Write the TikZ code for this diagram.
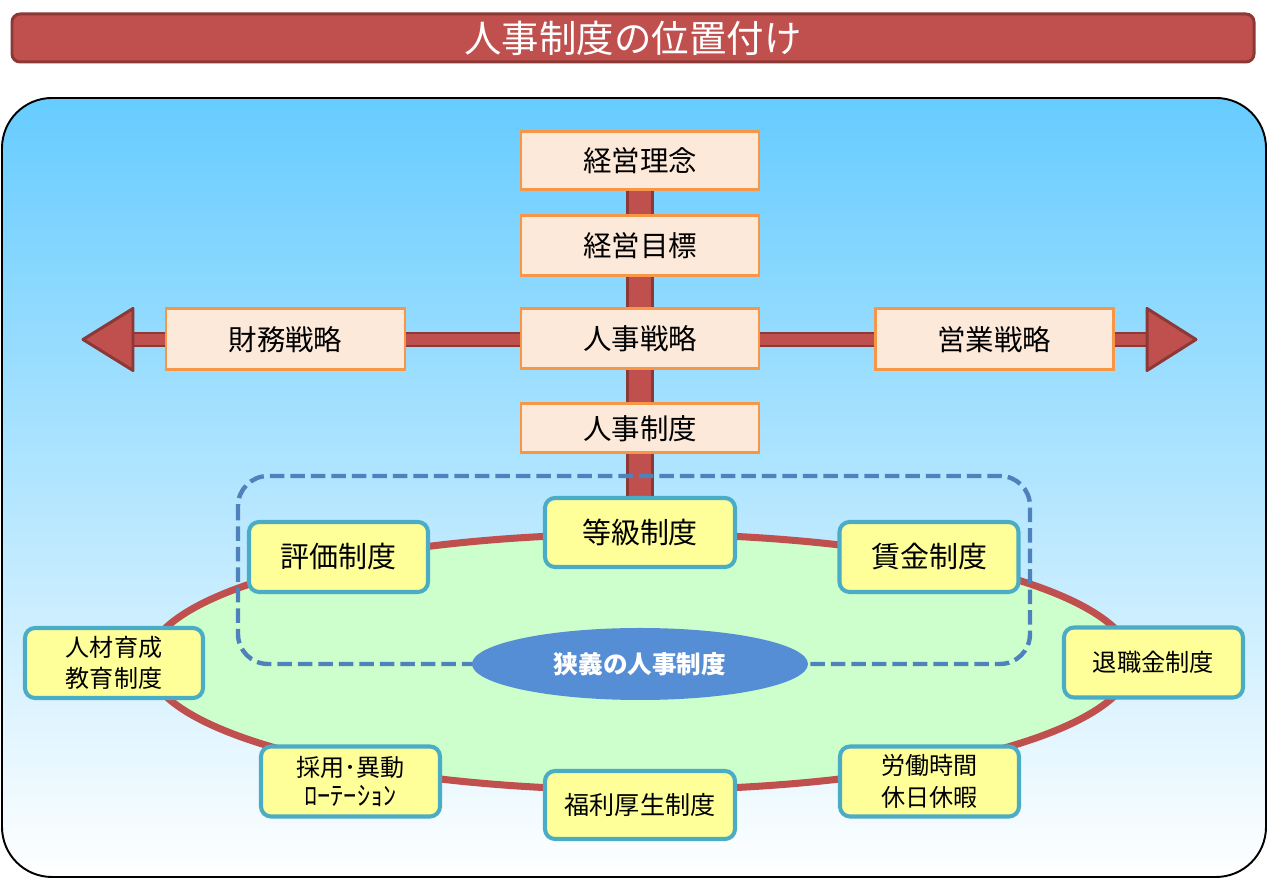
\documentclass[tikz,border=0pt]{standalone}
\usepackage{fontspec}
\setmainfont{Noto Sans CJK JP}
\usepackage{xcolor}
\definecolor{hrRed}{HTML}{C0504D}
\definecolor{hrRedEdge}{HTML}{8C3836}
\definecolor{hrOrange}{HTML}{F79646}
\definecolor{hrPeach}{HTML}{FDE9D9}
\definecolor{hrYellow}{HTML}{FFFF99}
\definecolor{hrTeal}{HTML}{4BACC6}
\definecolor{hrGreen}{HTML}{CCFFCC}
\definecolor{hrBlue}{HTML}{4F81BD}
\definecolor{hrCore}{HTML}{558ED5}
\definecolor{hrSky}{HTML}{66CCFF}
\usepackage{tikz}
\usetikzlibrary{calc,shapes.geometric}
\pgfdeclarelayer{back}
\pgfdeclarelayer{mid}
\pgfsetlayers{back,mid,main}

\begin{document}
\begin{tikzpicture}[
  planbox/.style={draw=hrOrange, fill=hrPeach, line width=1.7pt,
    minimum width=4.76cm, minimum height=1.2cm, inner sep=0pt,
    font=\fontsize{16.2}{18}\selectfont},
  sysbox/.style={draw=hrTeal, fill=hrYellow, line width=2.3pt,
    rounded corners=0.2cm, minimum width=3.58cm, minimum height=1.4cm,
    inner sep=0pt, align=center},
  labelL/.style={font=\fontsize{16.5}{18}\selectfont},
  labelS/.style={font=\fontsize{13.7}{18}\selectfont},
  postbar/.style={draw=hrRedEdge, double=hrRed, line width=1.7pt, double distance=12pt},
  beambar/.style={draw=hrRedEdge, double=hrRed, line width=1.1pt, double distance=5.8pt},
  headtip/.style={fill=hrRed, draw=hrRedEdge, line width=1.7pt, line join=round}]
  \useasboundingbox (0,0) rectangle (25.36,17.58);

  % ---- title ----
  \node[fill=hrRed, draw=hrRedEdge, line width=1.7pt, rounded corners=0.16cm,
        minimum width=24.84cm, minimum height=0.96cm, inner sep=0pt,
        text=white, font=\fontsize{21.3}{24}\selectfont] (title) at (12.66,16.82)
    {人事制度の位置付け};

  % ---- panel and the ring of systems ----
  \begin{pgfonlayer}{back}
    \shadedraw[top color=hrSky, bottom color=white, draw=black, line width=1.1pt,
      rounded corners=1cm] (0.04,0.04) rectangle (25.32,15.62);
    \draw[hrRed, fill=hrGreen, line width=4pt] (12.8,4.34) ellipse [x radius=9.84, y radius=2.56];
  \end{pgfonlayer}

  % ---- policy column ----
  \node[planbox, minimum height=1.16cm] (rinen)    at (12.8,14.36) {経営理念};
  \node[planbox]                        (mokuhyo)  at (12.8,12.67) {経営目標};
  \node[planbox]                        (senryaku) at (12.8,10.80) {人事戦略};
  \node[planbox, minimum height=0.98cm] (seido)    at (12.8,9.01)  {人事制度};
  \node[planbox, minimum width=4.78cm, minimum height=1.22cm] (zaimu) at (5.71,10.79)  {財務戦略};
  \node[planbox, minimum height=1.22cm] (eigyo)    at (19.88,10.79) {営業戦略};

  % ---- systems ----
  \node[sysbox, labelL, minimum width=3.8cm, minimum height=1.38cm] (toukyu) at (12.8,6.93) {等級制度};
  \node[sysbox, labelL] (hyouka)   at (6.77,6.44)  {評価制度};
  \node[sysbox, labelL] (chingin)  at (18.58,6.44) {賃金制度};
  \node[sysbox, labelS, minimum width=3.56cm] (ikusei) at (2.28,4.32) {人材育成\\教育制度};
  \node[sysbox, font=\fontsize{13.8}{16}\selectfont] (taishoku) at (23.07,4.33) {退職金制度};
  \node[sysbox, labelS] (saiyou)   at (7.01,1.95)
    {採用･異動\\[-1pt]{\fontsize{15}{17}\selectfont ﾛｰﾃｰｼｮﾝ}};
  \node[sysbox, labelS] (roudou)   at (18.59,1.95) {労働時間\\休日休暇};
  \node[sysbox, font=\fontsize{14.3}{16}\selectfont, minimum width=3.8cm, minimum height=1.36cm]
    (fukuri) at (12.8,1.48) {福利厚生制度};
  \node[ellipse, fill=hrCore, minimum width=6.72cm, minimum height=1.44cm, inner sep=0pt,
        text=white, font=\bfseries\fontsize{14}{16}\selectfont] (core) at (12.8,4.30) {狭義の人事制度};

  % ---- bars, arrows and the narrow frame ----
  \coordinate (lbase) at (2.66,10.79);
  \coordinate (ltip)  at (1.66,10.79);
  \coordinate (rbase) at (22.94,10.79);
  \coordinate (rtip)  at (23.92,10.79);
  \begin{pgfonlayer}{mid}
    \draw[postbar] (rinen) -- (toukyu.north);
    \draw[beambar] (lbase) -- (rbase);
    \draw[headtip] ($(lbase)+(0,0.62)$) -- (ltip) -- ($(lbase)+(0,-0.62)$) -- cycle;
    \draw[headtip] ($(rbase)+(0,0.62)$) -- (rtip) -- ($(rbase)+(0,-0.62)$) -- cycle;
    \draw[hrBlue, line width=2.5pt, dash pattern=on 0.29cm off 0.12cm, rounded corners=0.6cm]
      (4.76,8.06) rectangle (20.60,4.30);
  \end{pgfonlayer}
\end{tikzpicture}
\end{document}
